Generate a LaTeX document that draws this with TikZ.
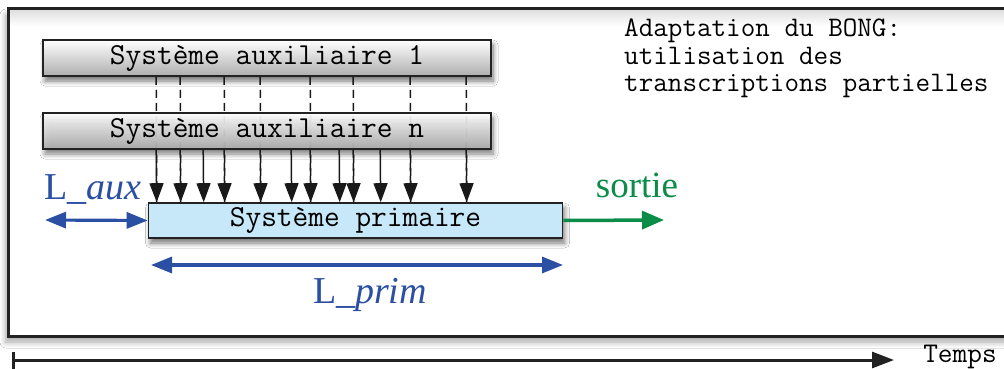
\documentclass[tikz,border=0pt]{standalone}
\usepackage{fontspec}
\setmainfont{Liberation Serif}
\usetikzlibrary{arrows.meta,shadows.blur}
\definecolor{lblue}{HTML}{2B4FA2}
\definecolor{lgreen}{HTML}{0B8C48}
\definecolor{primfill}{HTML}{C6E8F8}
\definecolor{framecol}{HTML}{222222}
\begin{document}
\begin{tikzpicture}[x=1pt,y=-1pt,
  auxbox/.style={draw=framecol,line width=1.6pt,minimum width=448pt,minimum height=36pt,inner sep=0pt,
    top color=white,bottom color=black!32,font=\ttfamily\fontsize{30.5}{30.5}\selectfont,
    blur shadow={shadow xshift=2pt,shadow yshift=-5pt,shadow blur steps=8,shadow blur radius=5pt,shadow opacity=55}},
  primbox/.style={draw=framecol,line width=1.6pt,minimum width=414pt,minimum height=35pt,inner sep=0pt,
    fill=primfill,font=\ttfamily\fontsize{30.5}{30.5}\selectfont,
    blur shadow={shadow xshift=2pt,shadow yshift=-5pt,shadow blur steps=8,shadow blur radius=5pt,shadow opacity=55}},
  darr/.style={-{Triangle[length=19pt,width=14pt]},line width=1.5pt,color=black!90},
  dsharr/.style={darr,dash pattern=on 8pt off 5pt},
  dsh/.style={line width=1.5pt,color=black!90,dash pattern=on 8pt off 5pt},
  bluearr/.style={{Triangle[length=21pt,width=16pt]}-{Triangle[length=21pt,width=16pt]},line width=3.2pt,color=lblue},
  bluelab/.style={text=lblue,font=\fontsize{38}{38}\selectfont,inner sep=0pt},
  note/.style={font=\ttfamily\fontsize{28.3}{27.5}\selectfont,align=left,inner sep=0pt,anchor=north west}
]
\useasboundingbox (0,0) rectangle (1004,369);
\fill[white] (0,0) rectangle (1004,369);
% outer frame
\draw[line width=3pt,draw=framecol,fill=white,
  blur shadow={shadow xshift=-2pt,shadow yshift=-6pt,shadow blur steps=8,shadow blur radius=6pt,shadow opacity=35}]
  (8,9) rectangle (1012,336);
\shade[top color=black!12,bottom color=white] (10,11) rectangle (1004,26);
% nodes
\node[auxbox] (aux1) at (267,58) {Système auxiliaire 1};
\node[primbox] (prim) at (355.5,220.5) {Système primaire};
% dashed lines (through aux n)
\foreach \x in {157,181,225,261,311,354,411,467}
  \draw[dsh] ([xshift={(\x-43)*1pt}]aux1.south west) -- ([xshift={(\x-148)*1pt}]prim.north west);
\node[auxbox,fill opacity=0.92,text opacity=1] (auxn) at (267,131) {Système auxiliaire n};
\foreach \x in {181,225,261,311,354,411,467}
  \draw[dsharr] ([xshift={(\x-43)*1pt}]auxn.south west) -- ([xshift={(\x-148)*1pt}]prim.north west);
\foreach \x in {157,204,292,340,381}
  \draw[darr] ([xshift={(\x-43)*1pt}]auxn.south west) -- ([xshift={(\x-148)*1pt}]prim.north west);
% labels
\coordinate (auxl) at (45,220);
\draw[bluearr] (auxl) -- (prim.west);
\node[bluelab] (laux) at (93,190) {L\_\textit{aux}};
\coordinate (pl) at (151,265);
\coordinate (pr) at (563,265);
\draw[bluearr] (pl) -- (pr);
\node[bluelab] (lprim) at (370,295) {L\_\textit{prim}};
\coordinate (sout) at (664,220);
\draw[-{Triangle[length=22pt,width=18pt]},line width=3.5pt,color=lgreen] (prim.east) -- (sout);
\node[text=lgreen,font=\fontsize{37}{37}\selectfont,inner sep=0pt] (sortie) at (637,185) {sortie};
% note
\node[note] (note) at (624,19) {Adaptation du BONG:\\utilisation des\\transcriptions partielles};
% time axis
\coordinate (t0) at (13,360);
\coordinate (t1) at (894,360);
\draw[line width=3pt,draw=framecol,-{Triangle[length=22pt,width=16pt]}] (t0) -- (t1);
\draw[line width=3pt,draw=framecol] (13,352) -- (13,369);
\node[font=\ttfamily\fontsize{28.5}{28.5}\selectfont,inner sep=0pt] (temps) at (960,357) {Temps};
\end{tikzpicture}
\end{document}
